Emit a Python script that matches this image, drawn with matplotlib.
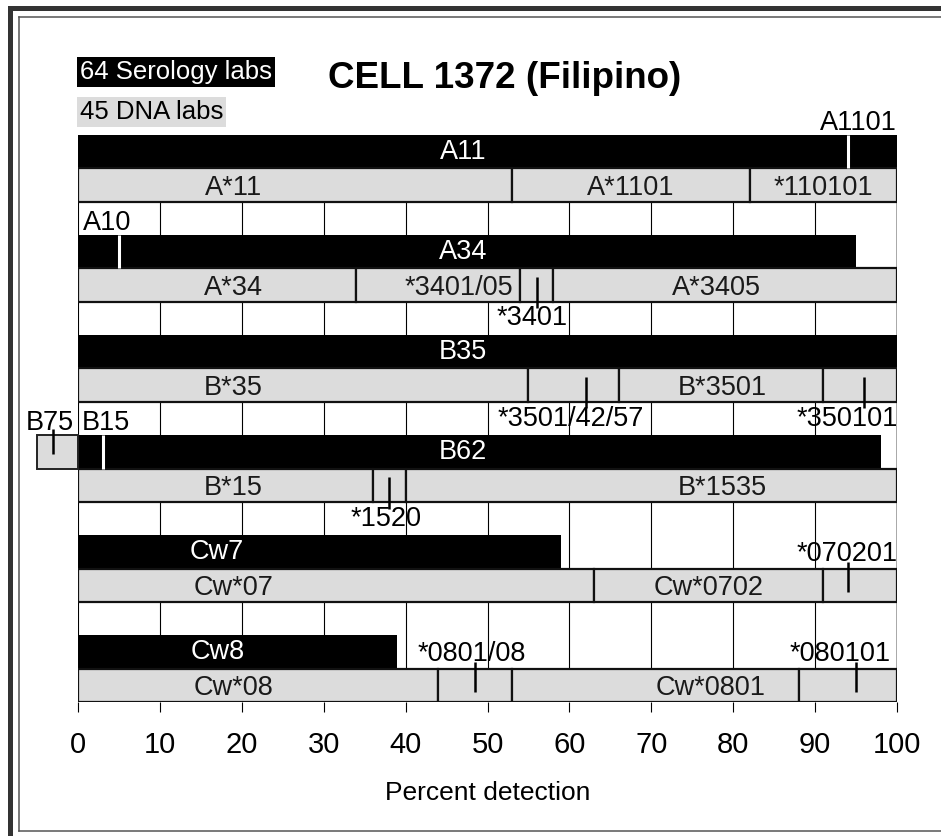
import matplotlib
matplotlib.use('Agg')
import matplotlib.pyplot as plt
from matplotlib.lines import Line2D

plt.rcParams['font.family'] = ['Liberation Sans', 'DejaVu Sans']

# serology (black) bars, one per locus row, top to bottom
sero_names = ['A11', 'A34', 'B35', 'B62', 'Cw7', 'Cw8']
sero_end = [100, 95, 100, 98, 59, 39]
sero_label_x = [47, 47, 47, 47, 17, 17]

# white split lines inside serology bars: row, x, label, label x, alignment
split_rows = [0, 1, 3]
split_x = [94, 5, 3]
split_labels = ['A1101', 'A10', 'B15']
split_label_x = [100, 0.6, 0.5]
split_ha = ['right', 'left', 'left']

# B75 box left of the axis
b75_row = 3
b75_left = -5
b75_tick = -3
b75_label_x = -3.5

# DNA (grey) segments
dna_bounds = [
    [0, 53, 82, 100],
    [0, 34, 54, 58, 100],
    [0, 55, 66, 91, 100],
    [0, 36, 40, 100],
    [0, 63, 91, 100],
    [0, 44, 53, 88, 100],
]
dna_labels = [
    ['A*11', 'A*1101', '*110101'],
    ['A*34', '*3401/05', '', 'A*3405'],
    ['B*35', '', 'B*3501', ''],
    ['B*15', '', 'B*1535'],
    ['Cw*07', 'Cw*0702', ''],
    ['Cw*08', '', 'Cw*0801', ''],
]
dna_label_x = [
    [19, 67.5, 91],
    [19, 46.5, 0, 78],
    [19, 0, 78.7, 0],
    [19, 0, 78.7],
    [19, 77, 0],
    [19, 0, 77.3, 0],
]

# small allele marks on DNA bars
mark_rows = [1, 2, 2, 3, 4, 5, 5]
mark_x = [56, 62, 96, 38, 94, 48.5, 95]
mark_labels = ['*3401', '*3501/42/57', '*350101', '*1520', '*070201', '*0801/08', '*080101']
mark_label_x = [55.4, 60.2, 93.9, 37.6, 93.9, 48.1, 93.0]
mark_side = ['below', 'below', 'below', 'below', 'above', 'above', 'above']

xticks = [0, 10, 20, 30, 40, 50, 60, 70, 80, 90, 100]

GREY = '#dcdcdc'
FS = 19.5
W, H = 941, 836
fig = plt.figure(figsize=(W / 100, H / 100), dpi=100)
ax = fig.add_axes([78 / W, 1 - 702 / H, (897 - 78) / W, (702 - 135) / H])
nrows = len(sero_names)
ytop = 3 * nrows - 1
ax.set_xlim(0, 100)
ax.set_ylim(0, ytop)

# grid lines
for x in xticks[:-1]:
    ax.axvline(x, color='black', lw=0.8, zorder=0)
ax.axvline(100, color='#999999', lw=1.2, zorder=0)

for i in range(nrows):
    y_black = ytop - 3 * i - 1
    y_grey = y_black - 1
    ax.barh(y_black, sero_end[i], left=0, height=1, align='edge', color='black',
            edgecolor='none', zorder=2)
    ax.text(sero_label_x[i], y_black + 0.5, sero_names[i], color='white', fontsize=FS,
            ha='center', va='center', zorder=5)
    b = dna_bounds[i]
    for j in range(len(b) - 1):
        ax.barh(y_grey, b[j + 1] - b[j], left=b[j], height=1, align='edge', color=GREY,
                edgecolor='#111111', linewidth=1.6, zorder=3)
        if dna_labels[i][j]:
            ax.text(dna_label_x[i][j], y_grey + 0.42, dna_labels[i][j], color='#1a1a1a',
                    fontsize=FS, ha='center', va='center', zorder=5)

for r, x, lab, lx, ha in zip(split_rows, split_x, split_labels, split_label_x, split_ha):
    y_black = ytop - 3 * r - 1
    ax.plot([x, x], [y_black, y_black + 1], color='white', lw=2.2, zorder=4,
            solid_capstyle='butt')
    ax.text(lx, y_black + 1.36, lab, fontsize=FS, ha=ha, va='center', zorder=5)

# B75 box
yb = ytop - 3 * b75_row - 1
ax.barh(yb, -b75_left, left=b75_left, height=1, align='edge', color=GREY,
        edgecolor='#222222', linewidth=1.4, zorder=3, clip_on=False)
ax.plot([b75_tick, b75_tick], [yb + 0.45, yb + 1.2], color='black', lw=1.8, zorder=4,
        clip_on=False, solid_capstyle='butt')
ax.text(b75_label_x, yb + 1.36, 'B75', fontsize=FS, ha='center', va='center',
        zorder=5, clip_on=False)

for r, x, lab, lx, side in zip(mark_rows, mark_x, mark_labels, mark_label_x, mark_side):
    y_grey = ytop - 3 * r - 2
    if side == 'below':
        y0, y1, ty = y_grey + 0.75, y_grey - 0.2, y_grey - 0.5
    else:
        y0, y1, ty = y_grey + 0.3, y_grey + 1.2, y_grey + 1.45
    ax.plot([x, x], [y0, y1], color='black', lw=1.8, zorder=6, solid_capstyle='butt',
            clip_on=False)
    ax.text(lx, ty, lab, fontsize=FS, ha='center', va='center', zorder=5,
            clip_on=False)

for s in ax.spines.values():
    s.set_visible(False)
ax.set_yticks([])
ax.set_xticks(xticks)
ax.tick_params(axis='x', direction='out', length=7, width=0.8, labelsize=21, pad=14)
ax.set_xlabel('Percent detection', fontsize=19, labelpad=16)

# legend boxes and title
fig.text(80 / W, 1 - 72 / H, '64 Serology labs', color='white', fontsize=18.5, va='center',
         bbox=dict(boxstyle='square,pad=0.1', fc='black', ec='none'))
fig.text(80 / W, 1 - 112 / H, '45 DNA labs', color='black', fontsize=18.5, va='center',
         bbox=dict(boxstyle='square,pad=0.1', fc=GREY, ec='none'))
fig.text(505 / W, 1 - 78 / H, 'CELL 1372 (Filipino)', fontsize=26.5, fontweight='bold',
         ha='center', va='center')

# frame
def px_line(xs, ys, lw, color):
    fig.add_artist(Line2D([x / W for x in xs], [1 - y / H for y in ys], lw=lw,
                          color=color, transform=fig.transFigure))

px_line([9.5, 9.5], [7.5, H], 3.6, '#333333')
px_line([9.5, W], [7.5, 7.5], 3.6, '#333333')
px_line([18.5, 18.5], [16.5, 830.5], 1.1, '#555555')
px_line([18.5, W], [16.5, 16.5], 1.1, '#555555')
px_line([18.5, W], [830.5, 830.5], 1.1, '#555555')

plt.savefig('out.png', dpi=100)
